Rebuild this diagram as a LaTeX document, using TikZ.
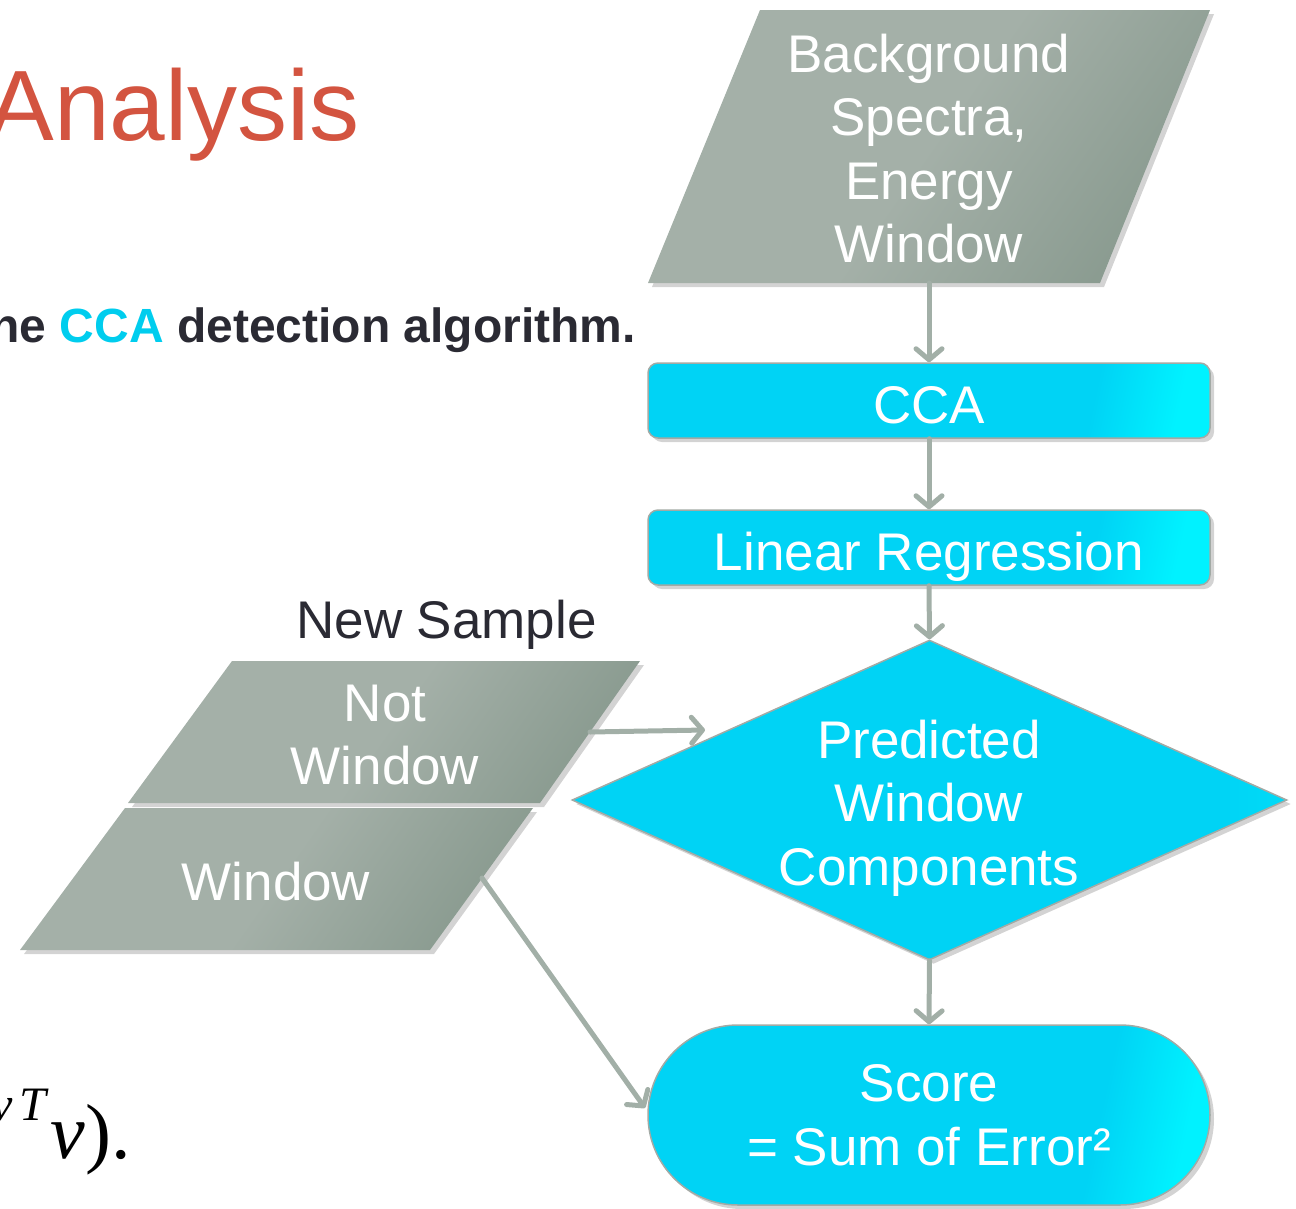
\documentclass[tikz,border=0pt]{standalone}
\usepackage{fontspec}
\setmainfont{Liberation Sans}
\newfontfamily\mathserif{Liberation Serif}
\usetikzlibrary{shadows,arrows.meta,shapes.geometric}

\definecolor{cyanmain}{HTML}{00D3F5}
\definecolor{cyanglow}{HTML}{00F2FF}
\definecolor{graylite}{HTML}{A4B0A8}
\definecolor{graydeep}{HTML}{8A9B90}
\definecolor{rimgray}{HTML}{A3AAA5}
\definecolor{linkgray}{HTML}{A2AFA7}
\definecolor{titlered}{HTML}{D35440}
\definecolor{inkdark}{HTML}{2A2A33}
\definecolor{accentcyan}{HTML}{00CDEE}

% fills: flat colour with a brighter (cyan) or darker (grey) far end
\pgfdeclarehorizontalshading{cyanwash}{100bp}{color(0bp)=(cyanmain); color(25bp)=(cyanmain); color(67bp)=(cyanmain); color(76bp)=(cyanglow); color(100bp)=(cyanglow)}
\pgfdeclarehorizontalshading{diamondwash}{100bp}{color(0bp)=(cyanmain); color(25bp)=(cyanmain); color(70bp)=(cyanmain); color(76bp)=(cyanmain!70!cyanglow); color(100bp)=(cyanmain!70!cyanglow)}
\pgfdeclarehorizontalshading{graywash}{100bp}{color(0bp)=(graylite); color(25bp)=(graylite); color(50bp)=(graylite); color(75bp)=(graydeep); color(100bp)=(graydeep)}

\tikzset{
  softshadow/.style={drop shadow={opacity=0.35, shadow xshift=4pt, shadow yshift=-4pt}},
  cyanbox/.style={draw=rimgray, line width=1.5pt, shading=cyanwash, shading angle=-12, softshadow,
    text=white, inner sep=0pt, align=center, font=\fontsize{53}{63.5}\selectfont},
  graybox/.style={shading=graywash, shading angle=-35, softshadow},
  whitetext/.style={text=white, align=center, inner sep=0pt, font=\fontsize{53}{63.5}\selectfont},
  link/.style={draw=linkgray, line width=5pt, line cap=round,
    -{Straight Barb[length=11pt, width=26pt, round]}},
}

\begin{document}
\begin{tikzpicture}[x=1pt,y=-1pt]
\useasboundingbox (0,0) rectangle (1296,1208);
\clip (0,0) rectangle (1296,1208);

% slide text on the left
\node[anchor=base east, inner sep=0pt, text=titlered, font=\fontsize{100}{110}\selectfont] (title) at (360,140) {Analysis};
\node[anchor=base east, inner sep=0pt, text=inkdark, font=\fontsize{48}{56}\selectfont\bfseries] (caption) at (636,342)
  {the \textcolor{accentcyan}{CCA} detection algorithm.};
\node[anchor=base east, inner sep=0pt, font=\mathserif\fontsize{78}{86}\selectfont] (formula) at (131,1158)
  {\itshape\raisebox{38pt}{\fontsize{48}{50}\selectfont v\kern6pt T}\kern5pt v\upshape).};

% input: background data
\path[graybox] (760,10) -- (1210,10) -- (1100,283) -- (648,283) -- cycle;
\coordinate (bgS) at (929,283);
\node[whitetext] (bgtext) at (929,148.5) {Background\\Spectra,\\Energy\\Window};

% processing chain
\node[cyanbox, minimum width=562, minimum height=75, rounded corners=10pt, text height=46pt, text depth=0pt] (cca) at (929,400.5) {CCA};
\node[cyanbox, minimum width=562, minimum height=75, rounded corners=10pt, text height=46pt, text depth=0pt] (linreg) at (929,547.5) {Linear Regression};
\node[cyanbox, shading=diamondwash, shading angle=0, diamond, minimum width=715, minimum height=320] (pred) at (929.5,800) {};
\node[whitetext] (predtext) at (929,808) {Predicted\\Window\\Components};
\node[cyanbox, minimum width=562, minimum height=180, rounded corners=90pt] (score) at (929,1115) {Score\\ = Sum of Error²};

% new sample inputs
\node[anchor=base, inner sep=0pt, text=inkdark, font=\fontsize{53}{63.5}\selectfont] (newsample) at (446.5,638) {New Sample};
\path[graybox] (232,661) -- (640,661) -- (540,803) -- (128,803) -- cycle;
\node[whitetext] (nottext) at (385,735) {Not\\Window};
\path[graybox] (125,808) -- (533,808) -- (430,950) -- (20,950) -- cycle;
\node[whitetext, anchor=base] (wintext) at (276,900) {Window};
\coordinate (notE) at (590,732);
\coordinate (predW) at (705,730);
\coordinate (winE) at (482,878);
\coordinate (scoreW) at (645,1108);

% connectors
\draw[link] (bgS) -- (cca.north);
\draw[link] (cca.south) -- (linreg.north);
\draw[link] (linreg.south) -- (pred.north);
\draw[link] (pred.south) -- (score.north);
\draw[link] (notE) -- (predW);
\draw[link] (winE) -- (scoreW);
\end{tikzpicture}
\end{document}
